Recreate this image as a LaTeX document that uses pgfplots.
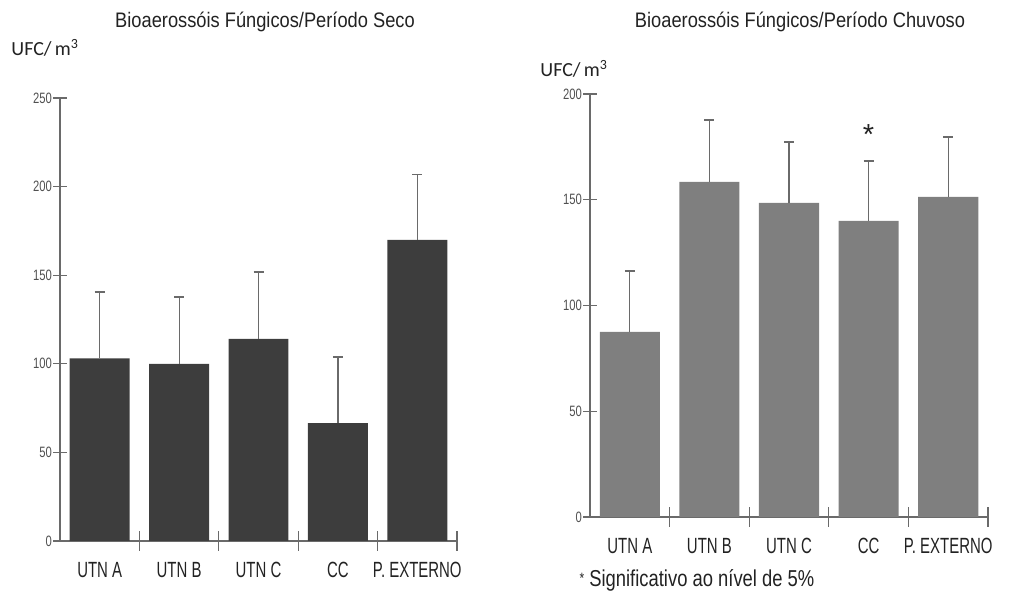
\documentclass[border=0pt]{standalone}
\usepackage{pgfplots}
\pgfplotsset{compat=1.18}
\usepackage{fontspec}
\setmainfont{Liberation Sans}
\newfontfamily\lab[FakeStretch=0.68]{Liberation Sans}
\newfontfamily\foot[FakeStretch=0.8]{Liberation Sans}
\newfontfamily\tit[FakeStretch=0.87]{Liberation Sans}
\newfontfamily\tickf[FakeStretch=0.75]{Liberation Sans}
\newfontfamily\unitf{Carlito}
\definecolor{darkbar}{HTML}{3D3D3D}
\definecolor{lightbar}{HTML}{7F7F7F}
\definecolor{axgray}{HTML}{6A6A6A}
\definecolor{txt}{HTML}{222222}
\definecolor{ticktxt}{HTML}{505050}
\pgfplotsset{
  mystyle/.style={
    scale only axis,
    anchor=south west,
    xmin=0.5, xmax=5.5, ymin=0,
    axis x line=bottom, axis y line=left,
    axis line style={-, draw=axgray, line width=1.2pt},
    tick align=center,
    major tick length=14pt,
    minor tick length=19pt,
    xtick={1,2,3,4,5},
    xticklabels={UTN A,UTN B,UTN C,CC,P. EXTERNO},
    minor xtick={1.5,2.5,3.5,4.5,5.5},
    major x tick style={draw=none},
    minor x tick style={draw=axgray, line width=1.2pt, yshift=9.5pt},
    ytick style={draw=axgray, line width=1.2pt},
    xticklabel style={font=\lab\fontsize{22}{26}\selectfont, text=txt, yshift=-4pt},
    yticklabel style={font=\tickf\fontsize{15}{18}\selectfont, text=ticktxt, inner sep=1pt},
    ybar, bar width=0.755,
    clip=false,
  },
  mybars/.style={
    fill=#1, draw=none,
    error bars/.cd, y dir=plus, y explicit,
    error bar style={line width=1.2pt, color=axgray},
    error mark options={rotate=90, mark size=5pt, line width=1.2pt, color=axgray},
  }
}
\begin{document}
\begin{tikzpicture}
\useasboundingbox (0,0) rectangle (1028pt,597pt);
% left panel
\begin{axis}[mystyle, at={(60pt,56pt)}, width=397pt, height=443pt, ymax=250,
  ytick={0,50,100,150,200,250}, yticklabels={0,50,100,150,200,250}]
\addplot[mybars=darkbar] coordinates {
  (1,103) +- (0,37.5)
  (2,100) +- (0,37.7)
  (3,114) +- (0,37.8)
  (4,66.5) +- (0,37.3)
  (5,170) +- (0,37)
};
\end{axis}
% right panel
\begin{axis}[mystyle, at={(590pt,80pt)}, width=398pt, height=423pt, ymax=200,
  ytick={0,50,100,150,200}, yticklabels={0,50,100,150,200}]
\addplot[mybars=lightbar] coordinates {
  (1,87.5) +- (0,28.8)
  (2,158.5) +- (0,29.2)
  (3,148.5) +- (0,28.8)
  (4,140) +- (0,28.3)
  (5,151.3) +- (0,28.4)
};
\node[font=\fontsize{29}{32}\selectfont, text=txt] at (axis cs:4,181) {*};
\end{axis}
\node[font=\tit\fontsize{21}{24}\selectfont, text=txt] at (265pt,575pt) {Bioaerossóis Fúngicos/Período Seco};
\node[font=\tit\fontsize{21}{24}\selectfont, text=txt] at (800pt,575pt) {Bioaerossóis Fúngicos/Período Chuvoso};
\node[font=\unitf\fontsize{20}{24}\selectfont, text=txt] at (45pt,549pt) {UFC/\,m\textsuperscript{3}};
\node[font=\unitf\fontsize{20}{24}\selectfont, text=txt] at (574pt,528pt) {UFC/\,m\textsuperscript{3}};
\node[font=\foot\fontsize{23}{26}\selectfont, text=txt, anchor=west] at (576pt,17pt) {\raisebox{3pt}{\fontsize{15}{16}\selectfont*} Significativo ao nível de 5\%};
\end{tikzpicture}
\end{document}
